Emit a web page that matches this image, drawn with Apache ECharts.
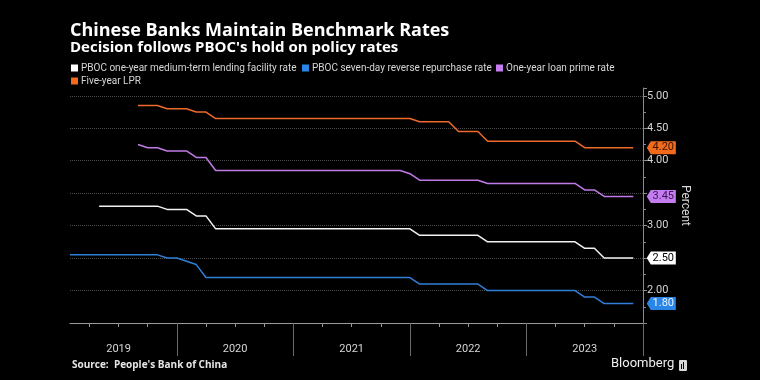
<!DOCTYPE html>
<html>
<head>
<meta charset="utf-8">
<script src="https://cdn.jsdelivr.net/npm/echarts@6/dist/echarts.min.js"></script>
<style>
html,body{margin:0;padding:0;background:#000;}
#chart{width:760px;height:380px;}
</style>
</head>
<body>
<div id="chart"></div>
<script>
// Monthly categories (Feb 2019 .. Jan 2024)
var months = [
  '2019-02','2019-03','2019-04','2019-05','2019-06','2019-07','2019-08','2019-09','2019-10','2019-11','2019-12',
  '2020-01','2020-02','2020-03','2020-04','2020-05','2020-06','2020-07','2020-08','2020-09','2020-10','2020-11','2020-12',
  '2021-01','2021-02','2021-03','2021-04','2021-05','2021-06','2021-07','2021-08','2021-09','2021-10','2021-11','2021-12',
  '2022-01','2022-02','2022-03','2022-04','2022-05','2022-06','2022-07','2022-08','2022-09','2022-10','2022-11','2022-12',
  '2023-01','2023-02','2023-03','2023-04','2023-05','2023-06','2023-07','2023-08','2023-09','2023-10','2023-11','2023-12',
  '2024-01'
];

var seriesNames = [
  'PBOC one-year medium-term lending facility rate',
  'PBOC seven-day reverse repurchase rate',
  'One-year loan prime rate',
  'Five-year LPR'
];

// PBOC one-year MLF rate
var mlf = [
  null,null,null,3.30,3.30,3.30,3.30,3.30,3.30,3.30,3.25,
  3.25,3.25,3.15,3.15,2.95,2.95,2.95,2.95,2.95,2.95,2.95,2.95,
  2.95,2.95,2.95,2.95,2.95,2.95,2.95,2.95,2.95,2.95,2.95,2.95,
  2.95,2.85,2.85,2.85,2.85,2.85,2.85,2.85,2.75,2.75,2.75,2.75,
  2.75,2.75,2.75,2.75,2.75,2.75,2.65,2.65,2.50,2.50,2.50,2.50,
  null
];

// PBOC seven-day reverse repo rate
var repo = [
  2.55,2.55,2.55,2.55,2.55,2.55,2.55,2.55,2.55,2.55,2.50,
  2.50,2.45,2.40,2.20,2.20,2.20,2.20,2.20,2.20,2.20,2.20,2.20,
  2.20,2.20,2.20,2.20,2.20,2.20,2.20,2.20,2.20,2.20,2.20,2.20,
  2.20,2.10,2.10,2.10,2.10,2.10,2.10,2.10,2.00,2.00,2.00,2.00,
  2.00,2.00,2.00,2.00,2.00,2.00,1.90,1.90,1.80,1.80,1.80,1.80,
  null
];

// One-year LPR
var lpr1 = [
  null,null,null,null,null,null,null,4.25,4.20,4.20,4.15,
  4.15,4.15,4.05,4.05,3.85,3.85,3.85,3.85,3.85,3.85,3.85,3.85,
  3.85,3.85,3.85,3.85,3.85,3.85,3.85,3.85,3.85,3.85,3.85,3.85,
  3.80,3.70,3.70,3.70,3.70,3.70,3.70,3.70,3.65,3.65,3.65,3.65,
  3.65,3.65,3.65,3.65,3.65,3.65,3.55,3.55,3.45,3.45,3.45,3.45,
  null
];

// Five-year LPR
var lpr5 = [
  null,null,null,null,null,null,null,4.85,4.85,4.85,4.80,
  4.80,4.80,4.75,4.75,4.65,4.65,4.65,4.65,4.65,4.65,4.65,4.65,
  4.65,4.65,4.65,4.65,4.65,4.65,4.65,4.65,4.65,4.65,4.65,4.65,
  4.65,4.60,4.60,4.60,4.60,4.45,4.45,4.45,4.30,4.30,4.30,4.30,
  4.30,4.30,4.30,4.30,4.30,4.30,4.20,4.20,4.20,4.20,4.20,4.20,
  null
];

// Y-axis tick labels hidden behind the value tags in the reference
var hiddenYLabels = [1.5, 2.5, 3.5];

var lineColors = ['#f2f2f2', '#2f7fd6', '#c07ae6', '#ec6a2a'];
var tagColors  = ['#ffffff', '#2a86e6', '#c47cf0', '#f26a1c'];
var tagText    = ['#000000', '#e8f2ff', '#3a1550', '#3a1200'];
var allData = [mlf, repo, lpr1, lpr5];

var FONT = 'Roboto, "Liberation Sans", sans-serif';

function lastIndex(arr){ for (var i = arr.length - 1; i >= 0; i--) if (arr[i] != null) return i; return -1; }

var series = allData.map(function (d, s) {
  var li = lastIndex(d);
  return {
    name: seriesNames[s],
    type: 'line',
    data: d,
    xAxisIndex: 0,
    yAxisIndex: 0,
    showSymbol: false,
    symbol: 'none',
    connectNulls: false,
    lineStyle: { color: lineColors[s], width: 1.5 },
    itemStyle: { color: lineColors[s] },
    z: 3,
    markPoint: {
      silent: true,
      symbol: 'path://M0,6 L4,0 L29,0 L29,12 L4,12 Z',
      symbolSize: [29, 13],
      symbolOffset: [28, 0],
      itemStyle: { color: tagColors[s] },
      label: {
        show: true,
        position: 'inside',
        offset: [2, 0],
        color: tagText[s],
        fontFamily: FONT,
        fontSize: 11,
        formatter: function (p) { return Number(p.value).toFixed(2); }
      },
      data: [{ coord: [months[li], d[li]], value: d[li] }],
      z: 10
    }
  };
});

var legendPos = [
  { left: 71, top: 63 },
  { left: 302, top: 63 },
  { left: 496, top: 63 },
  { left: 71, top: 76 }
];
var legends = seriesNames.map(function (n, i) {
  return {
    data: [{ name: n, itemStyle: { color: tagColors[i] } }],
    left: legendPos[i].left,
    top: legendPos[i].top,
    icon: 'rect',
    itemWidth: 7,
    itemHeight: 7,
    padding: 0,
    selectedMode: false,
    textStyle: { color: '#d6d6d6', fontSize: 10, fontFamily: FONT, padding: [0, 0, 0, -2] }
  };
});

var chart = echarts.init(document.getElementById('chart'), null, { renderer: 'canvas' });
chart.setOption({
  backgroundColor: '#000000',
  animation: false,
  title: [
    {
      text: 'Chinese Banks Maintain Benchmark Rates',
      left: 70, top: 22, padding: 0,
      textStyle: { color: '#ffffff', fontSize: 18, fontWeight: 'bold', fontFamily: '"Open Sans", sans-serif' }
    },
    {
      text: "Decision follows PBOC's hold on policy rates",
      left: 70, top: 40, padding: 0,
      textStyle: { color: '#ffffff', fontSize: 15, fontWeight: 'bold', fontFamily: '"Open Sans", sans-serif' }
    },
    {
      text: "Source:  People's Bank of China",
      left: 72, top: 360, padding: 0,
      textStyle: { color: '#e6e6e6', fontSize: 10, fontWeight: 'bold', fontFamily: '"Open Sans", sans-serif' }
    },
    {
      text: 'Bloomberg',
      left: 611, top: 357, padding: 0,
      textStyle: { color: '#f0f0f0', fontSize: 13, fontWeight: 'normal', fontFamily: FONT }
    }
  ],
  graphic: [
    { type: 'rect', shape: { x: 679, y: 360, width: 8, height: 11, r: 1 }, style: { fill: '#d8d8d8' } },
    { type: 'rect', shape: { x: 681, y: 364, width: 1, height: 5 }, style: { fill: '#000' } },
    { type: 'rect', shape: { x: 683, y: 362, width: 1, height: 7 }, style: { fill: '#000' } }
  ],
  legend: legends,
  grid: { left: 70, right: 117, top: 88, bottom: 57, containLabel: false },
  xAxis: [
    {
      type: 'category',
      position: 'bottom',
      data: months,
      boundaryGap: false,
      axisLine: { show: true, lineStyle: { color: '#9a9a9a', width: 1 } },
      axisTick: {
        show: true,
        length: 4,
        lineStyle: { color: '#9a9a9a' },
        interval: function (i, v) { var m = v.slice(5); return m === '04' || m === '07' || m === '10'; }
      },
      axisLabel: {
        show: true,
        color: '#d6d6d6',
        fontSize: 11,
        fontFamily: FONT,
        margin: 21,
        interval: function (i, v) { return v.slice(5) === '07'; },
        formatter: function (v) { return v.slice(0, 4); }
      },
      splitLine: { show: false }
    },
    {
      type: 'category',
      position: 'bottom',
      data: months,
      boundaryGap: false,
      axisLine: { show: false },
      axisLabel: { show: false },
      axisTick: {
        show: true,
        length: 33,
        lineStyle: { color: '#6a6a6a' },
        interval: function (i, v) { return v.slice(5) === '01'; }
      },
      splitLine: { show: false }
    }
  ],
  yAxis: {
    type: 'value',
    position: 'right',
    min: 1.5,
    max: 5.12,
    interval: 0.5,
    name: 'Percent',
    nameLocation: 'middle',
    nameRotate: -90,
    nameGap: 30,
    nameTextStyle: { color: '#d6d6d6', fontSize: 12, fontFamily: FONT },
    axisLine: { show: true, lineStyle: { color: '#8a8a8a', width: 1 } },
    axisTick: { show: true, length: 4, lineStyle: { color: '#8a8a8a' } },
    minorTick: { show: true, splitNumber: 2, length: 3, lineStyle: { color: '#8a8a8a' } },
    axisLabel: {
      color: '#d6d6d6',
      fontSize: 11,
      fontFamily: FONT,
      margin: 4,
      showMaxLabel: false,
      showMinLabel: false,
      formatter: function (v) {
        if (Math.abs(v * 2 - Math.round(v * 2)) > 1e-6) return '';
        for (var i = 0; i < hiddenYLabels.length; i++) if (Math.abs(v - hiddenYLabels[i]) < 1e-6) return '';
        return v.toFixed(2);
      }
    },
    splitLine: { show: true, showMaxLine: false, showMinLine: false, lineStyle: { color: '#4a4a4a', type: 'dotted', width: 1 } },
    minorSplitLine: { show: false }
  },
  series: series
});
</script>
</body>
</html>
